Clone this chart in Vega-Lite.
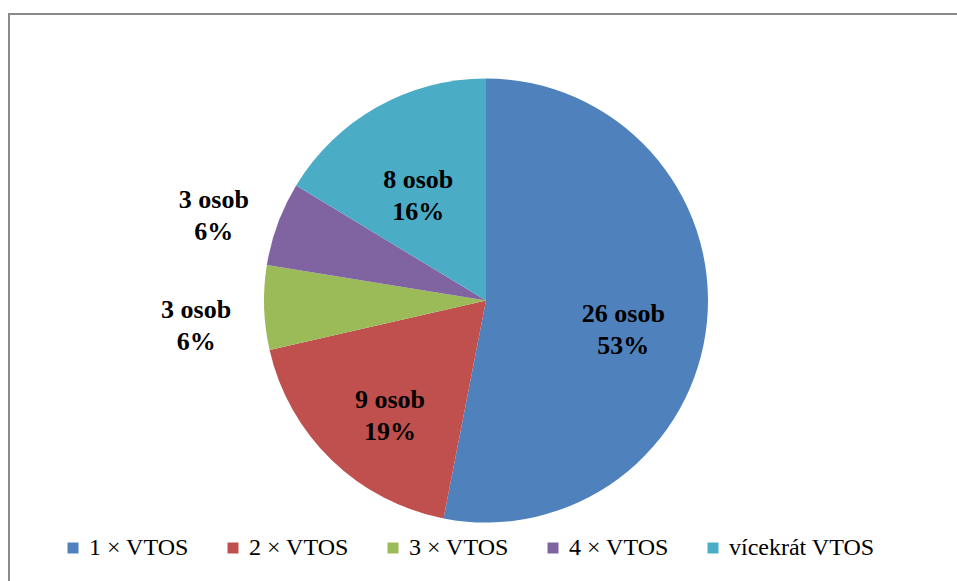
{
  "$schema": "https://vega.github.io/schema/vega-lite/v6.json",
  "autosize": {"type": "fit", "contains": "padding"},
  "width": 957,
  "height": 581,
  "padding": {"left": 9, "top": 14, "right": -6, "bottom": -6},
  "background": "white",
  "view": {"stroke": "#898989", "strokeWidth": 2},
  "config": {"view": {"stroke": "#898989", "strokeWidth": 2}},
  "data": {
    "values": [
      {"kategorie": "1 × VTOS", "osoby": 26, "podil": "53%"},
      {"kategorie": "2 × VTOS", "osoby": 9, "podil": "19%"},
      {"kategorie": "3 × VTOS", "osoby": 3, "podil": "6%"},
      {"kategorie": "4 × VTOS", "osoby": 3, "podil": "6%"},
      {"kategorie": "vícekrát VTOS", "osoby": 8, "podil": "16%"}
    ]
  },
  "transform": [
    {"calculate": "datum.osoby + ' osob\\n' + datum.podil", "as": "popisek"}
  ],
  "encoding": {
    "theta": {"field": "osoby", "type": "quantitative", "stack": true},
    "order": {"field": "kategorie", "type": "ordinal", "sort": "ascending"}
  },
  "layer": [
    {
      "mark": {"type": "arc", "outerRadius": 222, "stroke": null},
      "encoding": {
        "color": {
          "field": "kategorie",
          "type": "nominal",
          "scale": {
            "domain": ["1 × VTOS", "2 × VTOS", "3 × VTOS", "4 × VTOS", "vícekrát VTOS"],
            "range": ["#4F81BD", "#C0504D", "#9BBB59", "#8064A2", "#4BACC6"]
          },
          "legend": {
            "title": null,
            "orient": "none",
            "direction": "horizontal",
            "columns": 5,
            "gridAlign": "each",
            "legendX": 52,
            "legendY": 522,
            "symbolType": "square",
            "symbolSize": 121,
            "symbolStrokeWidth": 0,
            "labelFont": "Liberation Serif",
            "labelFontSize": 24,
            "labelColor": "black",
            "labelOffset": 4,
            "columnPadding": 32,
            "labelLimit": 300
          }
        }
      }
    },
    {
      "mark": {"type": "text", "radius": 138, "font": "Liberation Serif", "fontSize": 26, "fontWeight": "bold", "lineBreak": "\n", "lineHeight": 32, "color": "black"},
      "encoding": {
        "detail": {"field": "kategorie"},
        "text": {"condition": {"test": "datum.osoby > 5", "field": "popisek"}, "value": ""}
      }
    },
    {
      "mark": {"type": "text", "radius": 290, "font": "Liberation Serif", "fontSize": 26, "fontWeight": "bold", "lineBreak": "\n", "lineHeight": 32, "color": "black"},
      "encoding": {
        "detail": {"field": "kategorie"},
        "text": {"condition": {"test": "datum.osoby <= 5", "field": "popisek"}, "value": ""}
      }
    }
  ]
}
